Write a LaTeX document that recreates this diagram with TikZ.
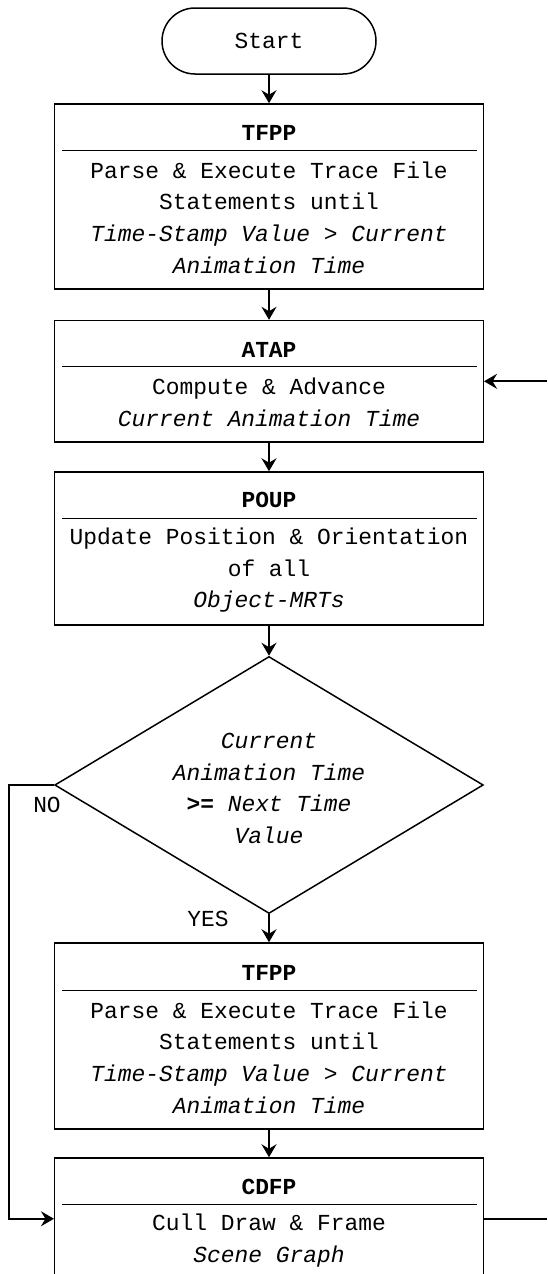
\documentclass[tikz,border=0pt]{standalone}
\usepackage{fontspec}
\setmonofont{Liberation Mono}
\usetikzlibrary{shapes.geometric,shapes.misc,arrows.meta}
\begin{document}
\begin{tikzpicture}[x=1pt,y=-1pt,
  every node/.style={font=\ttfamily\fontsize{22.9}{31.6}\selectfont, inner sep=0pt, align=center},
  box/.style={draw, line width=1.5pt, minimum width=428.6pt},
  term/.style={draw, line width=1.5pt, rounded rectangle, minimum width=214pt, minimum height=66pt},
  decision/.style={draw, line width=1.5pt, diamond, minimum width=428.6pt, minimum height=257pt},
  sepline/.style={line width=1pt},
  arr/.style={line width=1.7pt, -{Stealth[length=13pt,width=15pt,inset=4.5pt]}},
  plain/.style={line width=1.7pt}
]
\useasboundingbox (0,0) rectangle (547,1274);
\clip (0,0) rectangle (547,1274);
\fill[white] (0,0) rectangle (547,1274);

% Start
\node[term] (start) at (269,41) {Start};

% TFPP 1
\node[box, minimum height=185pt] (tfppa) at (269,196.5) {};
\node (tfppat) at (269,133) {\bfseries TFPP};
\draw[sepline] (62,150) -- (477,150);
\node (tfppax) at (269,217.5) {Parse \& Execute Trace File\\Statements until\\\itshape Time-Stamp Value \upshape> \itshape Current\\\itshape Animation Time};

% ATAP
\node[box, minimum height=121.5pt] (atap) at (269,381.3) {};
\node (atapt) at (269,350) {\bfseries ATAP};
\draw[sepline] (62,366.7) -- (477,366.7);
\node (atapx) at (269,402.5) {Compute \& Advance\\\itshape Current Animation Time};

% POUP
\node[box, minimum height=153pt] (poup) at (269,548.5) {};
\node (poupt) at (269,500) {\bfseries POUP};
\draw[sepline] (62,518.3) -- (477,518.3);
\node (poupx) at (269,570.3) {Update Position \& Orientation\\of all\\\itshape Object-MRTs};

% Decision
\node[decision] (dec) at (269,785) {};
\node (dect) at (269,788.4) {\itshape Current\\\itshape Animation Time\\\bfseries >= \mdseries\itshape Next Time\\\itshape Value};
\node (no) at (47,805) {NO};
\node (yes) at (208,919) {YES};

% TFPP 2
\node[box, minimum height=186pt] (tfppb) at (269,1036) {};
\node (tfppbt) at (269,973) {\bfseries TFPP};
\draw[sepline] (62,990.7) -- (477,990.7);
\node (tfppbx) at (269,1057.5) {Parse \& Execute Trace File\\Statements until\\\itshape Time-Stamp Value \upshape> \itshape Current\\\itshape Animation Time};

% CDFP
\node[box, minimum height=121.5pt] (cdfp) at (269,1218.75) {};
\node (cdfpt) at (269,1187) {\bfseries CDFP};
\draw[sepline] (62,1204) -- (477,1204);
\node (cdfpx) at (269,1240.4) {Cull Draw \& Frame\\\itshape Scene Graph};

% connectors
\coordinate (inR) at (547,381.3);
\coordinate (outR) at (547,1218.75);
\coordinate (loopL) at (9,785);

\draw[arr] (start) -- (tfppa);
\draw[arr] (tfppa) -- (atap);
\draw[arr] (atap) -- (poup);
\draw[arr] (poup) -- (dec);
\draw[arr] (dec.south) -- (tfppb);
\draw[arr] (tfppb) -- (cdfp);
\draw[arr] (inR) -- (atap.east);
\draw[plain] (cdfp.east) -- (outR);
\draw[arr] (dec.west) -- (loopL) |- (cdfp.west);
\end{tikzpicture}
\end{document}
